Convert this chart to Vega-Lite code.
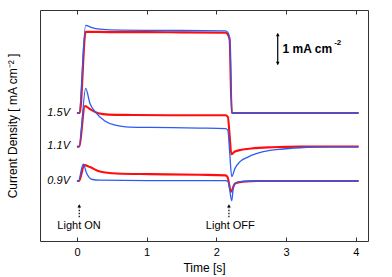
{
  "$schema": "https://vega.github.io/schema/vega-lite/v6.json",
  "width": 328,
  "height": 231,
  "autosize": "none",
  "padding": {"left": 40, "top": 10, "right": 24, "bottom": 36},
  "config": {
    "view": {"stroke": "#333333", "strokeWidth": 1},
    "font": "Liberation Sans",
    "axis": {"grid": false, "domain": false}
  },
  "datasets": {
    "curves": [
      {"s": "r15", "c": "red", "t": 0, "v": 4.0},
      {"s": "r15", "c": "red", "t": 0.04, "v": 4.0},
      {"s": "r15", "c": "red", "t": 0.125, "v": 6.54},
      {"s": "r15", "c": "red", "t": 0.5, "v": 6.53},
      {"s": "r15", "c": "red", "t": 1.0, "v": 6.53},
      {"s": "r15", "c": "red", "t": 1.5, "v": 6.52},
      {"s": "r15", "c": "red", "t": 2.13, "v": 6.51},
      {"s": "r15", "c": "red", "t": 2.16, "v": 6.47},
      {"s": "r15", "c": "red", "t": 2.19, "v": 6.3},
      {"s": "r15", "c": "red", "t": 2.22, "v": 4.0},
      {"s": "r15", "c": "red", "t": 2.3, "v": 4.0},
      {"s": "r15", "c": "red", "t": 4.04, "v": 4.0},

      {"s": "b15", "c": "blue", "t": 0, "v": 4.0},
      {"s": "b15", "c": "blue", "t": 0.03, "v": 4.0},
      {"s": "b15", "c": "blue", "t": 0.125, "v": 6.74},
      {"s": "b15", "c": "blue", "t": 0.2, "v": 6.68},
      {"s": "b15", "c": "blue", "t": 0.33, "v": 6.62},
      {"s": "b15", "c": "blue", "t": 0.62, "v": 6.59},
      {"s": "b15", "c": "blue", "t": 1.5, "v": 6.58},
      {"s": "b15", "c": "blue", "t": 2.13, "v": 6.57},
      {"s": "b15", "c": "blue", "t": 2.165, "v": 6.52},
      {"s": "b15", "c": "blue", "t": 2.19, "v": 6.35},
      {"s": "b15", "c": "blue", "t": 2.225, "v": 4.0},
      {"s": "b15", "c": "blue", "t": 2.3, "v": 4.0},
      {"s": "b15", "c": "blue", "t": 4.04, "v": 4.0},

      {"s": "r11", "c": "red", "t": 0, "v": 2.95},
      {"s": "r11", "c": "red", "t": 0.03, "v": 2.95},
      {"s": "r11", "c": "red", "t": 0.115, "v": 4.22},
      {"s": "r11", "c": "red", "t": 0.187, "v": 4.12},
      {"s": "r11", "c": "red", "t": 0.306, "v": 3.99},
      {"s": "r11", "c": "red", "t": 0.45, "v": 3.95},
      {"s": "r11", "c": "red", "t": 0.8, "v": 3.94},
      {"s": "r11", "c": "red", "t": 1.5, "v": 3.93},
      {"s": "r11", "c": "red", "t": 2.13, "v": 3.93},
      {"s": "r11", "c": "red", "t": 2.165, "v": 3.88},
      {"s": "r11", "c": "red", "t": 2.19, "v": 3.3},
      {"s": "r11", "c": "red", "t": 2.215, "v": 2.71},
      {"s": "r11", "c": "red", "t": 2.26, "v": 2.79},
      {"s": "r11", "c": "red", "t": 2.36, "v": 2.85},
      {"s": "r11", "c": "red", "t": 2.5, "v": 2.89},
      {"s": "r11", "c": "red", "t": 2.8, "v": 2.93},
      {"s": "r11", "c": "red", "t": 3.2, "v": 2.95},
      {"s": "r11", "c": "red", "t": 4.04, "v": 2.95},

      {"s": "b11", "c": "blue", "t": 0, "v": 2.95},
      {"s": "b11", "c": "blue", "t": 0.03, "v": 2.95},
      {"s": "b11", "c": "blue", "t": 0.125, "v": 4.77},
      {"s": "b11", "c": "blue", "t": 0.187, "v": 4.3},
      {"s": "b11", "c": "blue", "t": 0.26, "v": 4.04},
      {"s": "b11", "c": "blue", "t": 0.4, "v": 3.75},
      {"s": "b11", "c": "blue", "t": 0.55, "v": 3.62},
      {"s": "b11", "c": "blue", "t": 0.7, "v": 3.57},
      {"s": "b11", "c": "blue", "t": 1.05, "v": 3.55},
      {"s": "b11", "c": "blue", "t": 1.76, "v": 3.53},
      {"s": "b11", "c": "blue", "t": 2.13, "v": 3.51},
      {"s": "b11", "c": "blue", "t": 2.165, "v": 3.46},
      {"s": "b11", "c": "blue", "t": 2.19, "v": 2.8},
      {"s": "b11", "c": "blue", "t": 2.22, "v": 2.01},
      {"s": "b11", "c": "blue", "t": 2.267, "v": 2.27},
      {"s": "b11", "c": "blue", "t": 2.339, "v": 2.48},
      {"s": "b11", "c": "blue", "t": 2.458, "v": 2.63},
      {"s": "b11", "c": "blue", "t": 2.673, "v": 2.79},
      {"s": "b11", "c": "blue", "t": 2.96, "v": 2.875},
      {"s": "b11", "c": "blue", "t": 3.3, "v": 2.93},
      {"s": "b11", "c": "blue", "t": 3.63, "v": 2.95},
      {"s": "b11", "c": "blue", "t": 4.04, "v": 2.95},

      {"s": "r09", "c": "red", "t": 0, "v": 1.875},
      {"s": "r09", "c": "red", "t": 0.03, "v": 1.875},
      {"s": "r09", "c": "red", "t": 0.105, "v": 2.37},
      {"s": "r09", "c": "red", "t": 0.187, "v": 2.31},
      {"s": "r09", "c": "red", "t": 0.33, "v": 2.17},
      {"s": "r09", "c": "red", "t": 0.57, "v": 2.11},
      {"s": "r09", "c": "red", "t": 1.05, "v": 2.09},
      {"s": "r09", "c": "red", "t": 1.76, "v": 2.07},
      {"s": "r09", "c": "red", "t": 2.13, "v": 2.05},
      {"s": "r09", "c": "red", "t": 2.16, "v": 2.0},
      {"s": "r09", "c": "red", "t": 2.21, "v": 1.54},
      {"s": "r09", "c": "red", "t": 2.267, "v": 1.8},
      {"s": "r09", "c": "red", "t": 2.38, "v": 1.85},
      {"s": "r09", "c": "red", "t": 2.6, "v": 1.875},
      {"s": "r09", "c": "red", "t": 4.04, "v": 1.875},

      {"s": "b09", "c": "blue", "t": 0, "v": 1.875},
      {"s": "b09", "c": "blue", "t": 0.02, "v": 1.875},
      {"s": "b09", "c": "blue", "t": 0.09, "v": 2.4},
      {"s": "b09", "c": "blue", "t": 0.139, "v": 2.12},
      {"s": "b09", "c": "blue", "t": 0.21, "v": 1.93},
      {"s": "b09", "c": "blue", "t": 0.33, "v": 1.9},
      {"s": "b09", "c": "blue", "t": 1.0, "v": 1.89},
      {"s": "b09", "c": "blue", "t": 2.13, "v": 1.89},
      {"s": "b09", "c": "blue", "t": 2.17, "v": 1.85},
      {"s": "b09", "c": "blue", "t": 2.22, "v": 1.26},
      {"s": "b09", "c": "blue", "t": 2.245, "v": 1.7},
      {"s": "b09", "c": "blue", "t": 2.31, "v": 1.85},
      {"s": "b09", "c": "blue", "t": 2.5, "v": 1.875},
      {"s": "b09", "c": "blue", "t": 4.04, "v": 1.875}
    ],
    "vlabels": [
      {"t": -0.1, "v": 4.0, "txt": "1.5V"},
      {"t": -0.1, "v": 2.97, "txt": "1.1V"},
      {"t": -0.1, "v": 1.875, "txt": "0.9V"}
    ],
    "lights": [
      {"t": 0.03, "v": 0.47, "txt": "Light ON"},
      {"t": 2.2, "v": 0.47, "txt": "Light OFF"}
    ],
    "arrows": [
      {"t": 0.033, "a": 0.74, "b": 1.05, "h": 1.1},
      {"t": 2.18, "a": 0.74, "b": 1.05, "h": 1.1}
    ],
    "bar": [
      {"t": 2.88, "a": 5.52, "b": 6.48}
    ],
    "barheads": [
      {"t": 2.88, "v": 6.45, "shape": "triangle-up"},
      {"t": 2.88, "v": 5.55, "shape": "triangle-down"}
    ],
    "bartext": [
      {"t": 2.95, "v": 6.0, "txt": "1 mA cm"}
    ],
    "barsup": [
      {"t": 3.69, "v": 6.2, "txt": "-2"}
    ]
  },
  "resolve": {"axis": {"x": "independent"}},
  "layer": [
    {
      "data": {"name": "curves"},
      "transform": [{"filter": "datum.c === 'red'"}],
      "mark": {"type": "line", "interpolate": "monotone", "strokeWidth": 2.1, "color": "#ff0d0d"},
      "encoding": {
        "x": {"field": "t", "type": "quantitative",
              "scale": {"domain": [-0.53, 4.175], "nice": false, "zero": false},
              "axis": {"orient": "bottom", "values": [0, 1, 2, 3, 4], "title": "Time [s]",
                       "tickSize": -4, "tickColor": "#333333", "labelPadding": 9, "labelFontSize": 11,
                       "labelColor": "#000000", "titleFontSize": 12, "titleFontWeight": "normal",
                       "titleColor": "#000000", "titlePadding": 5}},
        "y": {"field": "v", "type": "quantitative",
              "scale": {"domain": [0, 7.22], "nice": false, "zero": false},
              "axis": {"orient": "left", "title": "Current Density [ mA cm⁻² ]", "labels": true, "labelOpacity": 0,
                       "labelFontSize": 1, "labelPadding": 0,
                       "ticks": true, "tickSize": 0, "tickOpacity": 0, "domain": true, "domainOpacity": 0,
                       "values": [0],
                       "titleFontSize": 12, "titleFontWeight": "normal", "titleColor": "#000000",
                       "titlePadding": 20}},
        "detail": {"field": "s"}
      }
    },
    {
      "data": {"name": "curves"},
      "transform": [{"filter": "datum.c === 'blue'"}],
      "mark": {"type": "line", "interpolate": "monotone", "strokeWidth": 1.3, "color": "#2a5cf5"},
      "encoding": {
        "x": {"field": "t", "type": "quantitative",
              "axis": {"orient": "top", "values": [0, 1, 2, 3, 4], "labels": false, "title": null,
                       "tickSize": -4, "tickColor": "#333333"}},
        "y": {"field": "v", "type": "quantitative"},
        "detail": {"field": "s"}
      }
    },
    {
      "data": {"name": "vlabels"},
      "mark": {"type": "text", "align": "right", "baseline": "middle", "fontStyle": "italic", "fontSize": 11, "color": "#000000"},
      "encoding": {
        "x": {"field": "t", "type": "quantitative", "axis": null},
        "y": {"field": "v", "type": "quantitative"},
        "text": {"field": "txt"}
      }
    },
    {
      "data": {"name": "lights"},
      "mark": {"type": "text", "align": "center", "baseline": "middle", "fontSize": 11, "color": "#000000"},
      "encoding": {
        "x": {"field": "t", "type": "quantitative", "axis": null},
        "y": {"field": "v", "type": "quantitative"},
        "text": {"field": "txt"}
      }
    },
    {
      "data": {"name": "arrows"},
      "mark": {"type": "rule", "strokeDash": [1.5, 1.5], "strokeWidth": 1.2, "color": "#000000"},
      "encoding": {
        "x": {"field": "t", "type": "quantitative", "axis": null},
        "y": {"field": "a", "type": "quantitative"},
        "y2": {"field": "b"}
      }
    },
    {
      "data": {"name": "arrows"},
      "mark": {"type": "point", "shape": "triangle-up", "filled": true, "size": 14, "color": "#000000", "opacity": 1},
      "encoding": {
        "x": {"field": "t", "type": "quantitative", "axis": null},
        "y": {"field": "h", "type": "quantitative"}
      }
    },
    {
      "data": {"name": "bar"},
      "mark": {"type": "rule", "strokeWidth": 1.2, "color": "#000000"},
      "encoding": {
        "x": {"field": "t", "type": "quantitative", "axis": null},
        "y": {"field": "a", "type": "quantitative"},
        "y2": {"field": "b"}
      }
    },
    {
      "data": {"name": "barheads"},
      "mark": {"type": "point", "filled": true, "size": 14, "color": "#000000", "opacity": 1},
      "encoding": {
        "x": {"field": "t", "type": "quantitative", "axis": null},
        "y": {"field": "v", "type": "quantitative"},
        "shape": {"field": "shape", "type": "nominal", "scale": null, "legend": null}
      }
    },
    {
      "data": {"name": "bartext"},
      "mark": {"type": "text", "align": "left", "baseline": "middle", "fontSize": 12, "fontWeight": "bold", "color": "#000000"},
      "encoding": {
        "x": {"field": "t", "type": "quantitative", "axis": null},
        "y": {"field": "v", "type": "quantitative"},
        "text": {"field": "txt"}
      }
    },
    {
      "data": {"name": "barsup"},
      "mark": {"type": "text", "align": "left", "baseline": "middle", "fontSize": 8, "fontWeight": "bold", "color": "#000000"},
      "encoding": {
        "x": {"field": "t", "type": "quantitative", "axis": null},
        "y": {"field": "v", "type": "quantitative"},
        "text": {"field": "txt"}
      }
    }
  ]
}
